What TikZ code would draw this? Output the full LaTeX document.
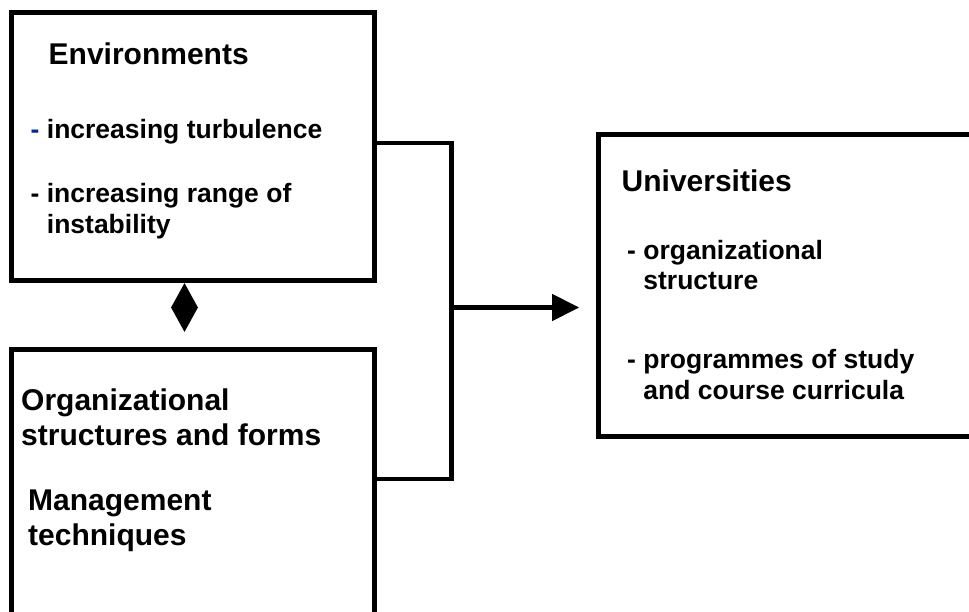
\documentclass[tikz,border=0pt]{standalone}
\usepackage{fontspec}
\setmainfont{Liberation Sans}
\usetikzlibrary{arrows.meta,shapes.geometric,positioning}
\definecolor{dashblue}{RGB}{0,40,160}
\tikzset{
  box/.style={draw,line width=5pt,inner sep=0pt},
  conn/.style={line width=4.5pt},
  head/.style={anchor=base west,inner sep=0pt,align=left,font=\bfseries\fontsize{30}{35}\selectfont},
  item/.style={anchor=base west,inner sep=0pt,align=left,font=\bfseries\fontsize{26.5}{30.5}\selectfont}
}
\begin{document}
\begin{tikzpicture}[x=1pt,y=-1pt]

        \useasboundingbox (0,0) rectangle (969,612);
        \clip (0,0) rectangle (969,612);

        % Draw the three boxes
        \node[box,minimum width=363pt,minimum height=267.5pt] (env) at (193,146.75) {};
        \node[box,minimum width=363pt,minimum height=290.5pt] (org) at (193,494.75) {};
        \node[box,minimum width=401.5pt,minimum height=302pt] (uni) at (799.25,285.5) {};

        % Texts of the environments box (base = last line)
        \node[head] (envtitle) at (48.5,64.3) {Environments};
        \node[item] (envitem1) at (30.5,138.3) {\textcolor{dashblue}{-} increasing turbulence};
        \node[item] (envitem2) at (30.5,233.2) {- increasing range of\\\hphantom{- }instability};

        % Texts of the lower box
        \node[head] (orgtitle) at (21,445.7) {Organizational\\structures and forms};
        \node[head] (mgmt) at (28,545) {Management\\techniques};

        % Texts of the universities box
        \node[head] (unititle) at (621.5,191.7) {Universities};
        \node[item] (uniitem1) at (627,290) {- organizational\\\hphantom{- }structure};
        \node[item] (uniitem2) at (627,399) {- programmes of study\\\hphantom{- }and course curricula};

        % Diamond between the two left boxes
        \node[diamond,fill=black,inner sep=0pt,minimum width=27pt,minimum height=49pt] (link) at (184.5,307.5) {};

        % Define coordinates for the joining line
        \coordinate (top) at (451.5,143);
        \coordinate (fork) at (451.5,307.5);
        \coordinate (bot) at (451.5,479);

        % Draw the joining line and the arrow
        \draw[conn] (env.east |- top) -- (top) -- (bot) -- (org.east |- bot);
        \draw[conn,-{Triangle[length=27pt,width=26pt]},shorten >=16.8pt] (fork) -- (uni.west |- fork);

    \end{tikzpicture}
\end{document}
